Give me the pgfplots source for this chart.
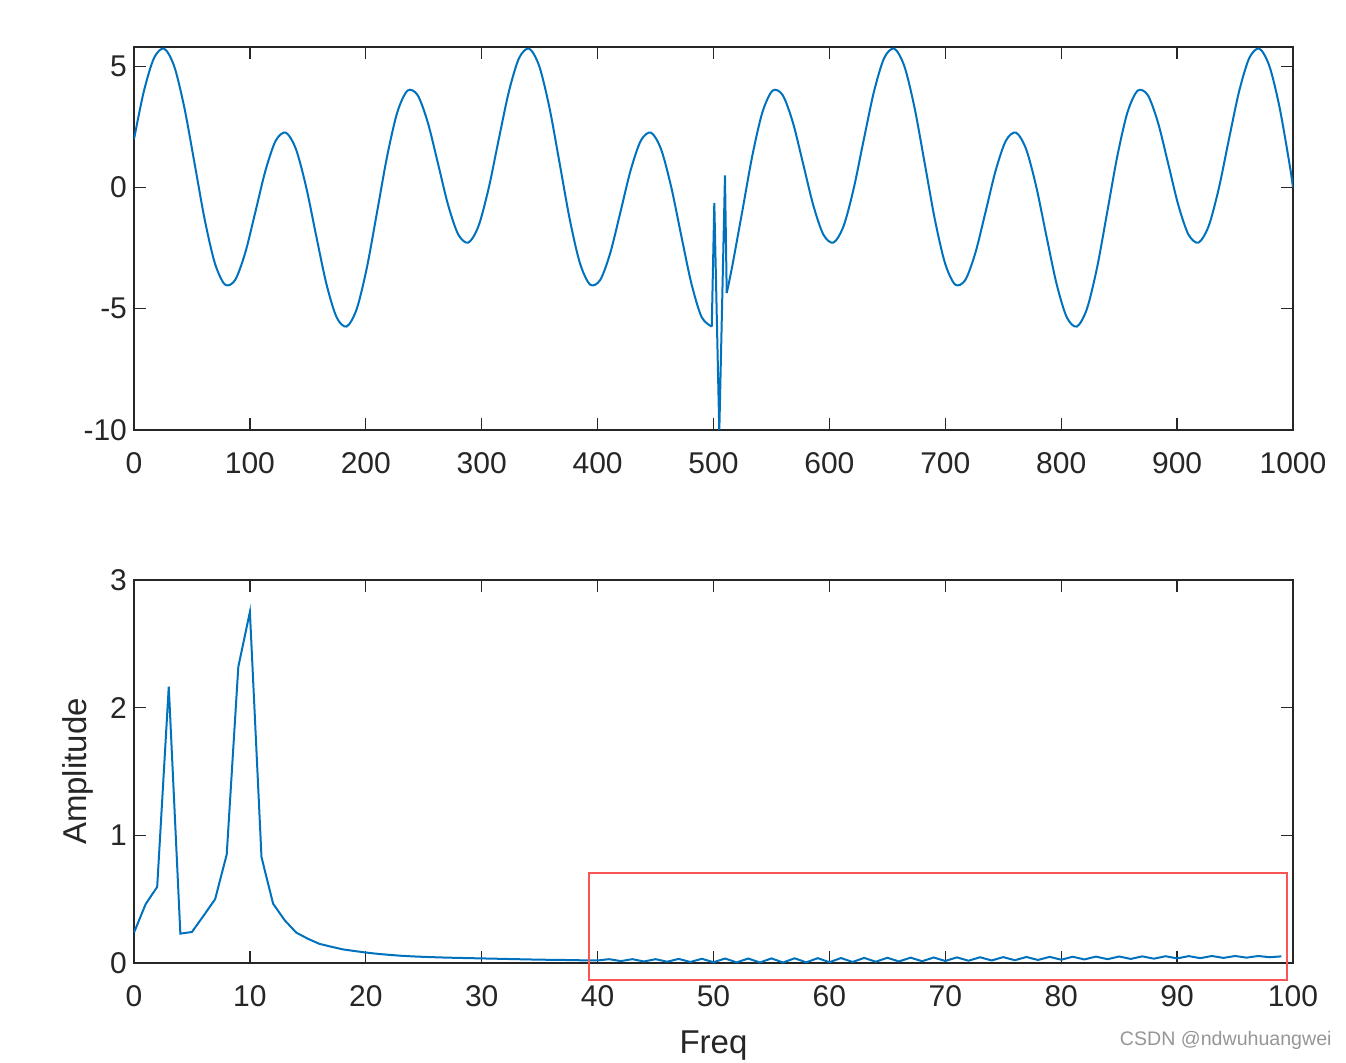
\documentclass[border=0pt]{standalone}
\usepackage{pgfplots}
\pgfplotsset{compat=1.18}
\usepackage{fontspec}
\setmainfont{Liberation Sans}
\definecolor{mblue}{RGB}{0,114,189}
\definecolor{axgray}{RGB}{38,38,38}
\definecolor{boxred}{RGB}{250,85,85}
\definecolor{wmgray}{RGB}{150,150,150}

\pgfplotsset{mstyle/.style={
  scale only axis, width=579.5pt, height=191.5pt,
  axis line style={axgray, line width=0.65pt},
  tick style={axgray, line width=0.65pt},
  major tick length=5.8pt,
  tick align=inside,
  xtick pos=both, ytick pos=both,
  ticklabel style={font=\fontsize{15}{18}\selectfont, text=axgray},
  xticklabel style={yshift=-7.5pt},
  /pgf/number format/assume math mode=true,
  /pgf/number format/1000 sep={},
  scaled ticks=false,
  label style={font=\fontsize{16.5}{19}\selectfont, text=axgray},
},
sig/.style={color=mblue, line width=1pt, mark=none}}

\begin{document}
\begin{tikzpicture}
\useasboundingbox (0pt,0pt) rectangle (673pt,531pt);

% ---------- top: time signal ----------
\begin{axis}[mstyle, at={(67pt,316pt)}, anchor=south west,
  xmin=0, xmax=1000, ymin=-10, ymax=5.8,
  xtick={0,100,...,1000}, ytick={-10,-5,0,5}]
\addplot[sig, smooth] coordinates {
(0,2.0) (8.5,3.970) (17.25,5.343) (26,5.732) (34.75,4.996) (43.5,3.286)
(52.25,1.0) (61,-1.316) (69.75,-3.117) (78.5,-4.0) (87.25,-3.811) (96,-2.684)
(104.75,-1.0) (113.5,0.714) (122.25,1.932) (131,2.268) (139.75,1.585) (148.5,0.030)
(157.25,-2.0) (166,-3.970) (174.75,-5.343) (183.5,-5.732) (192.25,-4.996) (201,-3.286)
(209.75,-1.0) (218.5,1.316) (227.25,3.117) (236,4.0) (244.75,3.811) (253.5,2.684)
(262.25,1.0) (271,-0.714) (279.75,-1.932) (288.5,-2.268) (297.25,-1.585) (306,-0.030)
(314.75,2.0) (323.5,3.970) (332.25,5.343) (341,5.732) (349.75,4.996) (358.5,3.286)
(367.25,1.0) (376,-1.316) (384.75,-3.117) (393.5,-4.0) (402.25,-3.811) (411,-2.684)
(419.75,-1.0) (428.5,0.714) (437.25,1.932) (446,2.268) (454.75,1.585) (463.5,0.030)
(472.25,-2.0) (481,-3.970) (489.75,-5.343) (498.5,-5.732)
};
\addplot[sig] coordinates {
(498.5,-5.732) (500.7,-0.63) (505,-10.07) (509.9,0.5) (511.4,-4.35)
};
\addplot[sig, smooth] coordinates {
(511.4,-4.35) (516,-3.286) (524.75,-1.0) (533.5,1.316) (542.25,3.117) (551,4.0)
(559.75,3.811) (568.5,2.684) (577.25,1.0) (586,-0.714) (594.75,-1.932) (603.5,-2.268)
(612.25,-1.585) (621,-0.030) (629.75,2.0) (638.5,3.970) (647.25,5.343) (656,5.732)
(664.75,4.996) (673.5,3.286) (682.25,1.0) (691,-1.316) (699.75,-3.117) (708.5,-4.0)
(717.25,-3.811) (726,-2.684) (734.75,-1.0) (743.5,0.714) (752.25,1.932) (761,2.268)
(769.75,1.585) (778.5,0.030) (787.25,-2.0) (796,-3.970) (804.75,-5.343) (813.5,-5.732)
(822.25,-4.996) (831,-3.286) (839.75,-1.0) (848.5,1.316) (857.25,3.117) (866,4.0)
(874.75,3.811) (883.5,2.684) (892.25,1.0) (901,-0.714) (909.75,-1.932) (918.5,-2.268)
(927.25,-1.585) (936,-0.030) (944.75,2.0) (953.5,3.970) (962.25,5.343) (971,5.732)
(979.75,4.996) (988.5,3.286) (997.25,0.9) (1000,0.0)
};
\end{axis}

% ---------- bottom: spectrum ----------
\begin{axis}[mstyle, at={(67pt,49.5pt)}, anchor=south west,
  xmin=0, xmax=100, ymin=0, ymax=3,
  xtick={0,10,...,100}, ytick={0,1,2,3},
  xlabel={Freq}, ylabel={Amplitude},
  xlabel style={at={(axis description cs:0.5,0)}, anchor=base, yshift=-45pt},
  ylabel style={at={(axis description cs:-0.0483,0.5)}, anchor=center}]
\addplot[sig] coordinates {
(0,0.238) (1,0.46) (2,0.596) (3,2.165) (4,0.23) (5,0.243) (6,0.37) (7,0.5)
(8,0.85) (9,2.32) (10,2.75) (11,0.83) (12,0.465) (13,0.335) (14,0.238) (15,0.19)
(16,0.15) (17,0.128) (18,0.107) (19,0.094) (20,0.082) (21,0.072) (22,0.064)
(23,0.057) (24,0.052) (25,0.048) (26,0.045) (27,0.042) (28,0.040) (29,0.038)
(30,0.036) (31,0.034) (32,0.032) (33,0.030) (34,0.028) (35,0.026) (36,0.025)
(37,0.024) (38,0.022) (39,0.021) (40,0.020) (41,0.030) (42,0.015) (43,0.030)
(44,0.012) (45,0.030) (46,0.010) (47,0.032) (48,0.008) (49,0.033) (50,0.006)
(51,0.035) (52,0.005) (53,0.035) (54,0.004) (55,0.036) (56,0.004) (57,0.037)
(58,0.005) (59,0.038) (60,0.006) (61,0.039) (62,0.008) (63,0.040) (64,0.010)
(65,0.041) (66,0.012) (67,0.042) (68,0.014) (69,0.043) (70,0.016) (71,0.044)
(72,0.018) (73,0.045) (74,0.020) (75,0.046) (76,0.022) (77,0.047) (78,0.024)
(79,0.048) (80,0.026) (81,0.049) (82,0.028) (83,0.050) (84,0.030) (85,0.051)
(86,0.032) (87,0.052) (88,0.034) (89,0.053) (90,0.036) (91,0.054) (92,0.038)
(93,0.055) (94,0.040) (95,0.055) (96,0.042) (97,0.055) (98,0.045) (99,0.052)
};
\end{axis}

% annotation box and watermark
\draw[boxred, line width=1pt] (294.5pt,94.5pt) rectangle (643.5pt,41pt);
\node[anchor=east, text=wmgray, font=\fontsize{9.8}{11}\selectfont, inner sep=0pt] at (666pt,11pt) {CSDN @ndwuhuangwei};
\end{tikzpicture}
\end{document}
